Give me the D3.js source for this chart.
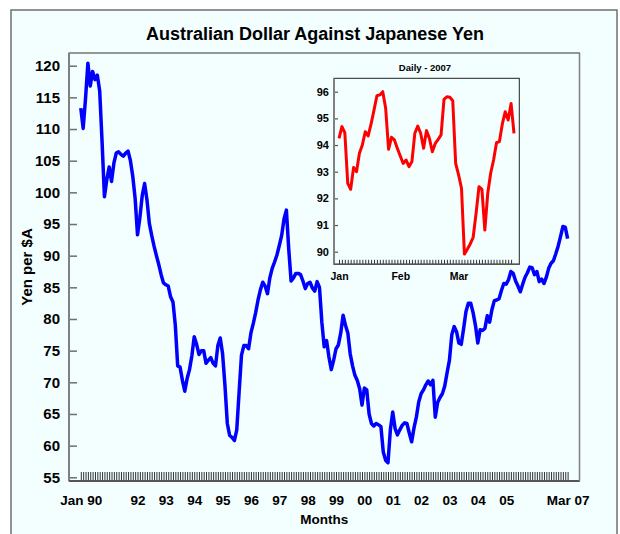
<!DOCTYPE html>
<html>
<head>
<meta charset="utf-8">
<script src="https://cdn.jsdelivr.net/npm/d3@7"></script>
<style>
    body { margin: 0; background: #fff; }
    text { font-family: "Liberation Sans", Arial, sans-serif; font-weight: bold; fill: #000; }
</style>
</head>
<body>
<script>
// AUD/JPY month-end rate, Jan 1990 .. Mar 2007 (one row per year)
const monthlyRate = [
    113.3, 110.1, 114.8, 120.4, 116.8, 119.1, 117.8, 118.5, 116.0, 108.0, 99.3, 102.0,
    104.0, 101.7, 104.6, 106.2, 106.4, 106.0, 105.7, 106.2, 106.5, 105.0, 102.5, 99.0,
    93.3, 96.0, 99.5, 101.4, 98.8, 95.1, 93.2, 91.5, 90.0, 88.6, 87.0, 85.7,
    85.4, 85.2, 83.5, 82.7, 79.0, 72.6, 72.4, 70.3, 68.6, 70.6, 72.0, 74.2,
    77.2, 76.0, 74.4, 75.0, 75.0, 73.0, 73.5, 73.9, 73.0, 72.6, 75.8, 77.0,
    74.5, 69.5, 63.5, 61.6, 61.3, 60.8, 62.5, 68.5, 74.3, 75.8, 75.8, 75.3,
    77.8, 79.3, 81.0, 83.0, 84.6, 85.8, 85.2, 84.0, 86.5, 88.0, 89.0, 90.1,
    91.6, 93.2, 95.8, 97.2, 91.0, 86.0, 86.5, 87.2, 87.2, 87.0, 86.0, 84.8,
    85.6, 85.8, 84.9, 84.4, 85.9, 85.0, 79.5, 75.6, 76.6, 74.0, 72.0, 73.5,
    75.3, 75.9, 77.8, 80.6, 79.0, 77.8, 74.5, 72.6, 71.1, 70.3, 69.0, 66.4,
    69.1, 68.8, 65.0, 63.5, 63.1, 63.5, 63.3, 63.0, 59.0, 57.7, 57.3, 62.5,
    65.3, 62.7, 61.7, 62.5, 63.2, 63.6, 63.5, 62.0, 60.6, 62.8, 64.5, 66.9,
    68.2, 68.8, 69.6, 70.2, 69.6, 70.3, 64.5, 66.8, 67.6, 68.2, 69.4, 71.5,
    73.5, 77.5, 78.8, 78.0, 76.2, 76.0, 78.5, 81.2, 82.5, 82.5, 81.0, 79.0,
    76.2, 78.3, 78.2, 78.5, 80.5, 79.5, 81.5, 82.9, 83.0, 83.2, 84.5, 85.6,
    85.5, 86.2, 87.5, 87.2, 86.0, 85.2, 84.3, 85.5, 86.6, 87.3, 88.2, 88.1,
    87.0, 87.5, 85.9, 86.3, 85.6, 86.6, 88.0, 88.8, 89.2, 90.3, 91.5, 93.0,
    94.6, 94.5, 92.7
];

const xTickLabels = ["Jan 90", "92", "93", "94", "95", "96", "97", "98", "99",
    "00", "01", "02", "03", "04", "05", "Mar 07"];
const xTickMonths = [0, 24, 36, 48, 60, 72, 84, 96, 108, 120, 132, 144, 156, 168, 180, 206];
const yTicks = [55, 60, 65, 70, 75, 80, 85, 90, 95, 100, 105, 110, 115, 120];

// daily rate, trading days Jan 2 .. late Mar 2007
const dailyRate = [
    94.25, 94.69, 94.46, 92.56, 92.34, 93.16, 93.0, 93.69, 94.0, 94.5,
    94.34, 94.79, 95.31, 95.85, 95.88, 96.0, 95.38, 93.84, 94.29, 94.19,
    93.88, 93.59, 93.31, 93.44, 93.19, 93.38, 94.44, 94.71, 94.44, 93.88,
    94.54, 94.25, 93.75, 94.06, 94.21, 94.38, 95.71, 95.81, 95.79, 95.66,
    93.31, 92.88, 92.38, 89.91, 90.09, 90.29, 90.54, 91.44, 92.44, 92.34,
    90.81, 92.19, 92.94, 93.44, 94.09, 94.13, 94.79, 95.25, 94.94, 95.56,
    94.44
];
const dailyTickLabels = ["Jan", "Feb", "Mar"];
const dailyTickDays = [0, 21, 41];
const dailyYTicks = [90, 91, 92, 93, 94, 95, 96];

const bg = "#f3fefe";

const svg = d3.select("body").append("svg")
    .attr("width", 620)
    .attr("height", 534);

// outer frame
svg.append("rect")
    .attr("x", 11).attr("y", 10)
    .attr("width", 606).attr("height", 540)
    .attr("fill", bg)
    .attr("stroke", "#707070")
    .attr("stroke-width", 1.5);

svg.append("text")
    .attr("x", 315)
    .attr("y", 40)
    .attr("text-anchor", "middle")
    .style("font-size", "18px")
    .text("Australian Dollar Against Japanese Yen");

// ---- main chart ----
const plot = { left: 69, right: 579.5, top: 53, bottom: 481 };

const x = d3.scaleLinear().domain([0, 206]).range([80.8, 567.6]);
const y = d3.scaleLinear().domain([55, 120]).range([477.3, 65.7]);

svg.append("rect")
    .attr("x", plot.left).attr("y", plot.top)
    .attr("width", plot.right - plot.left)
    .attr("height", plot.bottom - plot.top)
    .attr("fill", bg)
    .attr("stroke", "#333")
    .attr("stroke-width", 1);

// y axis, ticks pointing in
const yAxis = svg.append("g")
    .attr("transform", `translate(${plot.left}, 0)`)
    .call(d3.axisLeft(y)
        .tickValues(yTicks)
        .tickSize(-8)
        .tickSizeOuter(0)
        .tickPadding(9));
yAxis.select(".domain").remove();
yAxis.selectAll("line").attr("stroke", "#6e6e6e").attr("stroke-width", 1.5);
yAxis.selectAll("text").style("font-size", "15px");

// monthly minor ticks along the bottom
const xMinor = svg.append("g")
    .attr("transform", `translate(0, ${plot.bottom})`)
    .call(d3.axisBottom(x)
        .tickValues(d3.range(monthlyRate.length))
        .tickSize(-9)
        .tickSizeOuter(0)
        .tickFormat(""));
xMinor.select(".domain").remove();
xMinor.selectAll("line").attr("stroke", "#333").attr("stroke-width", 1);

// year labels
const xLabels = svg.append("g")
    .attr("transform", `translate(0, ${plot.bottom})`)
    .call(d3.axisBottom(x)
        .tickValues(xTickMonths)
        .tickSize(0)
        .tickPadding(14)
        .tickFormat((d, i) => xTickLabels[i]));
xLabels.select(".domain").remove();
xLabels.selectAll("text").style("font-size", "13.5px");

// axis lines
svg.append("line")
    .attr("x1", plot.left).attr("x2", plot.left)
    .attr("y1", plot.top).attr("y2", plot.bottom)
    .attr("stroke", "#808080").attr("stroke-width", 2);
svg.append("line")
    .attr("x1", plot.left).attr("x2", plot.right)
    .attr("y1", plot.bottom).attr("y2", plot.bottom)
    .attr("stroke", "#555").attr("stroke-width", 2);
svg.append("line")
    .attr("x1", plot.right).attr("x2", plot.right)
    .attr("y1", plot.top).attr("y2", plot.bottom)
    .attr("stroke", "#808080").attr("stroke-width", 1.5);

const line = d3.line()
    .x((d, i) => x(i))
    .y(d => y(d));

svg.append("path")
    .datum(monthlyRate)
    .attr("fill", "none")
    .attr("stroke", "#0000ff")
    .attr("stroke-width", 3.5)
    .attr("stroke-linejoin", "round")
    .attr("d", line);

// axis titles
svg.append("text")
    .attr("x", (plot.left + plot.right) / 2)
    .attr("y", 524)
    .attr("text-anchor", "middle")
    .style("font-size", "13.5px")
    .text("Months");

svg.append("text")
    .attr("transform", "rotate(-90)")
    .attr("x", -(plot.top + plot.bottom) / 2)
    .attr("y", 32)
    .attr("text-anchor", "middle")
    .style("font-size", "15px")
    .text("Yen per $A");

// ---- inset: daily 2007 ----
const inset = { left: 334, right: 519.3, top: 78.3, bottom: 264.3 };

const xd = d3.scaleLinear().domain([0, dailyRate.length - 1]).range([339, 514]);
const yd = d3.scaleLinear().domain([90, 96]).range([251.7, 91.7]);

svg.append("rect")
    .attr("x", inset.left).attr("y", inset.top)
    .attr("width", inset.right - inset.left)
    .attr("height", inset.bottom - inset.top)
    .attr("fill", bg)
    .attr("stroke", "#222")
    .attr("stroke-width", 1);

svg.append("text")
    .attr("x", 425)
    .attr("y", 71)
    .attr("text-anchor", "middle")
    .style("font-size", "9.5px")
    .text("Daily - 2007");

const ydAxis = svg.append("g")
    .attr("transform", `translate(${inset.left}, 0)`)
    .call(d3.axisLeft(yd)
        .tickValues(dailyYTicks)
        .tickSize(-4)
        .tickSizeOuter(0)
        .tickPadding(5)
        .tickFormat(d3.format("d")));
ydAxis.select(".domain").remove();
ydAxis.selectAll("line").attr("stroke", "#555").attr("stroke-width", 1.2);
ydAxis.selectAll("text").style("font-size", "11px");

const xdMinor = svg.append("g")
    .attr("transform", `translate(0, ${inset.bottom})`)
    .call(d3.axisBottom(xd)
        .tickValues(d3.range(dailyRate.length - 1))
        .tickSize(-4.5)
        .tickSizeOuter(0)
        .tickFormat(""));
xdMinor.select(".domain").remove();
xdMinor.selectAll("line").attr("stroke", "#333").attr("stroke-width", 1);

const xdLabels = svg.append("g")
    .attr("transform", `translate(0, ${inset.bottom})`)
    .call(d3.axisBottom(xd)
        .tickValues(dailyTickDays)
        .tickSize(0)
        .tickPadding(8)
        .tickFormat((d, i) => dailyTickLabels[i]));
xdLabels.select(".domain").remove();
xdLabels.selectAll("text").style("font-size", "10.5px");

svg.append("line")
    .attr("x1", inset.left).attr("x2", inset.left)
    .attr("y1", inset.top).attr("y2", inset.bottom)
    .attr("stroke", "#808080").attr("stroke-width", 2);
svg.append("line")
    .attr("x1", inset.left).attr("x2", inset.right)
    .attr("y1", inset.bottom).attr("y2", inset.bottom)
    .attr("stroke", "#555").attr("stroke-width", 1.5);

const dailyLine = d3.line()
    .x((d, i) => xd(i))
    .y(d => yd(d));

svg.append("path")
    .datum(dailyRate)
    .attr("fill", "none")
    .attr("stroke", "#ff0000")
    .attr("stroke-width", 3)
    .attr("stroke-linejoin", "round")
    .attr("d", dailyLine);
</script>
</body>
</html>
